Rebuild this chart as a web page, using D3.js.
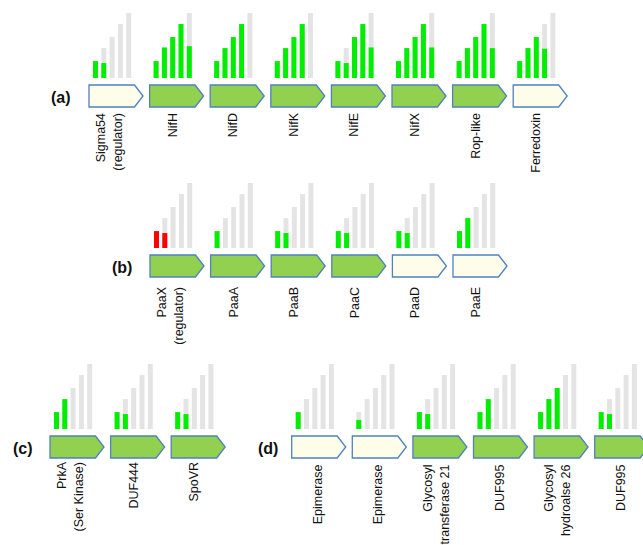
<!DOCTYPE html>
<html>
<head>
<meta charset="utf-8">
<script src="https://cdn.jsdelivr.net/npm/d3@7"></script>
<style>
  html, body { margin: 0; padding: 0; background: #fff; }
  svg { display: block; }
</style>
</head>
<body>
<svg id="chart" width="643" height="545"></svg>
<script>
// Five expression time points per gene; grey bars show the reference level of each point.
const timePoints = ["T1", "T2", "T3", "T4", "T5"];
const referenceLevels = [26, 46, 63, 83, 100];

// (a) nif operon
const labelsA = [["Sigma54", "(regulator)"], ["NifH"], ["NifD"], ["NifK"], ["NifE"], ["NifX"], ["Rop-like"], ["Ferredoxin"]];
const valuesA = [
  [26, 23, 0, 0, 0],
  [26, 47, 63, 83, 49],
  [26, 46, 63, 83, 0],
  [26, 46, 63, 83, 0],
  [26, 23, 63, 83, 47],
  [26, 46, 63, 83, 47],
  [26, 46, 63, 83, 46],
  [26, 46, 63, 45, 0]
];
const inducedA = [false, true, true, true, true, true, true, false];

// (b) paa cluster
const labelsB = [["PaaX", "(regulator)"], ["PaaA"], ["PaaB"], ["PaaC"], ["PaaD"], ["PaaE"]];
const valuesB = [
  [26, 23, 0, 0, 0],
  [26, 0, 0, 0, 0],
  [26, 23, 0, 0, 0],
  [26, 23, 0, 0, 0],
  [26, 23, 0, 0, 0],
  [26, 46, 0, 0, 0]
];
const inducedB = [true, true, true, true, false, false];
const repressedB = [true, false, false, false, false, false];

// (c) kinase cluster
const labelsC = [["PrkA", "(Ser Kinase)"], ["DUF444"], ["SpoVR"]];
const valuesC = [
  [26, 46, 0, 0, 0],
  [26, 23, 0, 0, 0],
  [26, 23, 0, 0, 0]
];
const inducedC = [true, true, true];

// (d) cell-wall cluster
const labelsD = [["Epimerase"], ["Epimerase"], ["Glycosyl", "transferase 21"], ["DUF995"], ["Glycosyl", "hydroalse 26"], ["DUF995"]];
const valuesD = [
  [26, 0, 0, 0, 0],
  [14, 0, 0, 0, 0],
  [26, 23, 0, 0, 0],
  [26, 46, 0, 0, 0],
  [26, 46, 63, 0, 0],
  [26, 23, 0, 0, 0]
];
const inducedD = [false, false, true, true, true, true];

const svg = d3.select("#chart");

const ARROW_W = 54, ARROW_H = 22, TIP = 8.5, STEP = 60.6, BAR_GAP = 7;
const FONT = "'Liberation Sans', Arial, sans-serif";

// bar heights and positions inside one gene column
const yHeight = d3.scaleLinear().domain([0, 100]).range([0, 65]);
const xBar = d3.scaleBand().domain(timePoints).range([4, 42.2]).paddingInner(0.4);

const panels = [
  { tag: "(a)", tagX: 51, labels: labelsA, values: valuesA, induced: inducedA, repressed: null,
    x0: 89, arrowTop: 85, labelGap: 6, labelShift: 0 },
  { tag: "(b)", tagX: 112, labels: labelsB, values: valuesB, induced: inducedB, repressed: repressedB,
    x0: 150, arrowTop: 255, labelGap: 10, labelShift: 0 },
  { tag: "(c)", tagX: 13, labels: labelsC, values: valuesC, induced: inducedC, repressed: null,
    x0: 50, arrowTop: 436, labelGap: 4, labelShift: 0 },
  { tag: "(d)", tagX: 258, labels: labelsD, values: valuesD, induced: inducedD, repressed: null,
    x0: 291.7, arrowTop: 436, labelGap: 6.5, labelShift: 3 }
];

function arrowPath(w, h, tip) {
  const p = d3.path();
  p.moveTo(0, 0);
  p.lineTo(w - tip, 0);
  p.lineTo(w, h / 2);
  p.lineTo(w - tip, h);
  p.lineTo(0, h);
  p.closePath();
  return p.toString();
}

panels.forEach(panel => {
  const n = panel.labels.length;
  const xCol = d3.scaleLinear().domain([0, 1]).range([panel.x0, panel.x0 + STEP]);
  const baseY = panel.arrowTop - BAR_GAP;

  const g = svg.append("g");

  g.append("text")
    .attr("x", panel.tagX)
    .attr("y", panel.arrowTop + ARROW_H / 2 + 7)
    .attr("font-family", FONT)
    .attr("font-weight", "bold")
    .attr("font-size", 16)
    .attr("fill", "#111")
    .text(panel.tag);

  const genes = g.selectAll("g.gene")
    .data(d3.range(n))
    .join("g")
    .attr("class", "gene")
    .attr("transform", i => `translate(${xCol(i)},0)`);

  // reference bars
  genes.selectAll("rect.ref")
    .data(referenceLevels.map((v, k) => ({ t: timePoints[k], v })))
    .join("rect")
    .attr("class", "ref")
    .attr("x", d => xBar(d.t))
    .attr("width", xBar.bandwidth())
    .attr("y", d => baseY - yHeight(d.v))
    .attr("height", d => yHeight(d.v))
    .attr("fill", "#e4e4e4");

  // measured expression
  genes.selectAll("rect.val")
    .data(i => panel.values[i].map((v, k) => ({ t: timePoints[k], v, red: panel.repressed ? panel.repressed[i] : false })).filter(d => d.v > 0))
    .join("rect")
    .attr("class", "val")
    .attr("x", d => xBar(d.t))
    .attr("width", xBar.bandwidth())
    .attr("y", d => baseY - yHeight(d.v))
    .attr("height", d => yHeight(d.v))
    .attr("fill", d => d.red ? "#ff0000" : "#00ee00");

  // gene arrows
  genes.append("path")
    .attr("transform", `translate(0,${panel.arrowTop})`)
    .attr("d", arrowPath(ARROW_W, ARROW_H, TIP))
    .attr("fill", i => panel.induced[i] ? "#92d050" : "#fdfdea")
    .attr("stroke", "#4f81bd")
    .attr("stroke-width", 1.3)
    .attr("stroke-linejoin", "miter");

  // rotated gene names
  const labelTop = panel.arrowTop + ARROW_H + panel.labelGap;
  genes.each(function (i) {
    const lines = panel.labels[i];
    const cx = ARROW_W / 2 + panel.labelShift;
    const offsets = lines.length === 1 ? [0] : [-11, 6];
    lines.forEach((line, j) => {
      d3.select(this).append("text")
        .attr("transform", `translate(${cx + offsets[j]},${labelTop}) rotate(-90)`)
        .attr("text-anchor", "end")
        .attr("font-family", FONT)
        .attr("font-size", 12.5)
        .attr("fill", "#111")
        .text(line);
    });
  });
});
</script>
</body>
</html>
